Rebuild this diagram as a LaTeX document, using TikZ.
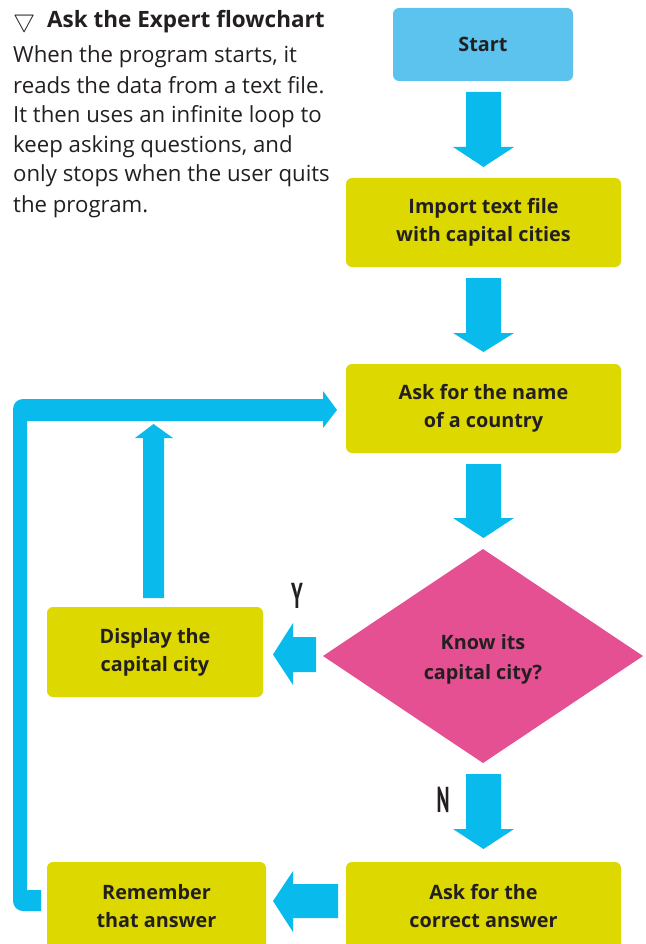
\documentclass[tikz,border=0pt]{standalone}
\usepackage{fontspec}
\setmainfont{Open Sans}
\newfontfamily\ynfont{PT Sans}
\usepackage{graphicx}
\definecolor{arrowblue}{RGB}{8,187,236}
\definecolor{startblue}{RGB}{91,195,237}
\definecolor{boxyellow}{RGB}{220,216,0}
\definecolor{dpink}{RGB}{228,80,145}
\definecolor{ink}{RGB}{35,31,32}
\tikzset{
  flowbox/.style={rounded corners=6pt, fill=boxyellow, text=ink, align=center, inner sep=0pt,
    font=\bfseries\fontsize{19.8}{28}\selectfont},
  blockarrow/.style={fill=arrowblue, draw=none},
  bodyline/.style={anchor=base west, inner sep=0pt, text=ink, font=\fontsize{22.2}{30}\selectfont},
  yn/.style={inner sep=0pt, text=ink, font=\ynfont\bfseries\fontsize{36}{36}\selectfont}
}
\begin{document}
\begin{tikzpicture}[x=1pt,y=-1pt]
\useasboundingbox (0,0) rectangle (645,944);
\clip (0,0) rectangle (645,944);

% title and description
\node[anchor=base west, inner sep=0pt, text=ink, font=\fontsize{24}{24}\selectfont] (tri) at (13,28) {$\bigtriangledown$};
\node[anchor=base west, inner sep=0pt, text=ink, font=\bfseries\fontsize{22.5}{24}\selectfont] (title) at (47,28) {Ask the Expert flowchart};
\node[bodyline] (l1) at (13,63) {When the program starts, it};
\node[bodyline] (l2) at (13,93.5) {reads the data from a text file.};
\node[bodyline] (l3) at (13,123) {It then uses an infinite loop to};
\node[bodyline] (l4) at (13,152.5) {keep asking questions, and};
\node[bodyline] (l5) at (13,182) {only stops when the user quits};
\node[bodyline] (l6) at (13,212) {the program.};

% boxes
\node[flowbox, fill=startblue, minimum width=180pt, minimum height=73pt] (start) at (483,44.5) {Start};
\node[flowbox, minimum width=275pt, minimum height=89pt] (import) at (483.5,222.5) {Import text file\\with capital cities};
\node[flowbox, minimum width=275pt, minimum height=89pt] (ask) at (483.5,408.5) {Ask for the name\\of a country};
\fill[dpink] (323,656) -- (483,549) -- (643,656) -- (483,763) -- cycle;
\node[text=ink, align=center, inner sep=0pt, font=\bfseries\fontsize{19.8}{30}\selectfont] (know) at (483,659) {Know its\\capital city?};
\node[flowbox, minimum width=216pt, minimum height=90pt] (display) at (155,652) {Display the\\capital city};
\node[flowbox, minimum width=275pt, minimum height=88pt] (correct) at (483.5,906) {Ask for the\\correct answer};
\node[flowbox, minimum width=219pt, minimum height=88pt] (remember) at (156.5,906) {Remember\\that answer};

% down arrows
\fill[blockarrow] (466,92) -- (501,92) -- (501,147) -- (514,147) -- (483.5,167) -- (453,147) -- (466,147) -- cycle;
\fill[blockarrow] (466,278) -- (501,278) -- (501,333) -- (514,333) -- (483.5,352) -- (453,333) -- (466,333) -- cycle;
\fill[blockarrow] (466,464) -- (501,464) -- (501,518) -- (514,518) -- (483.5,538) -- (453,518) -- (466,518) -- cycle;
\fill[blockarrow] (466,774) -- (501,774) -- (501,829) -- (514,829) -- (483.5,849) -- (453,829) -- (466,829) -- cycle;

% left arrows
\fill[blockarrow] (316,637) -- (316,672) -- (293,672) -- (293,685) -- (273,654.5) -- (293,623) -- (293,637) -- cycle;
\fill[blockarrow] (338,884) -- (338,918) -- (293,918) -- (293,932) -- (273,901) -- (293,871) -- (293,884) -- cycle;

% up arrow
\fill[blockarrow] (143,598) -- (164,598) -- (164,438) -- (173,438) -- (153.5,424) -- (135,438) -- (143,438) -- cycle;

% loop
\fill[blockarrow] (41,911) -- (23,911) to[out=180,in=270] (13,901) -- (13,409) to[out=90,in=180] (23,399) -- (323,399) -- (323,391) -- (337,410) -- (323,428) -- (323,421) -- (27,421) -- (27,890) -- (41,890) -- cycle;

% labels
\node[yn] (ylab) at (297,596) {\scalebox{0.55}[1]{Y}};
\node[yn] (nlab) at (443,800) {\scalebox{0.55}[1]{N}};
\end{tikzpicture}
\end{document}
